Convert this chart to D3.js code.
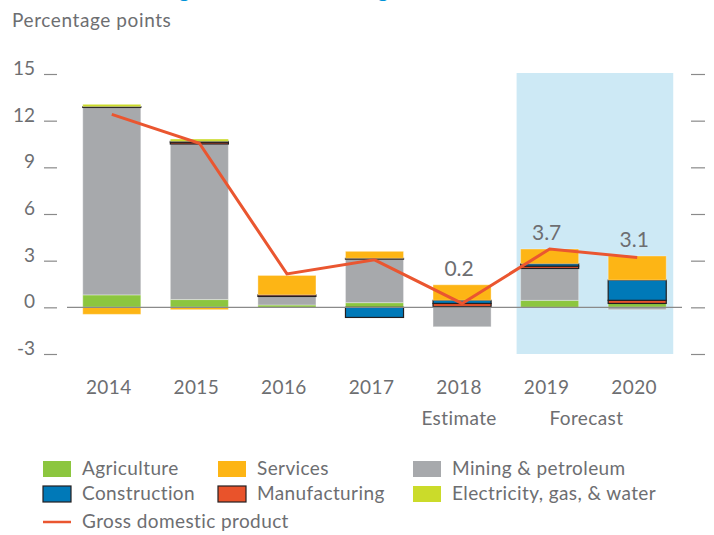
<!DOCTYPE html>
<html><head><meta charset="utf-8">
<script src="https://cdn.jsdelivr.net/npm/d3@7"></script>
<style>
html,body{margin:0;padding:0;background:#fff;}
svg{display:block;font-family:Lato, "Open Sans", sans-serif;}
</style></head>
<body>
<svg id="chart" width="714" height="535"></svg>
<script>
const years = ["2014","2015","2016","2017","2018","2019","2020"];
const agriculture   = [0.8, 0.5, 0.15, 0.3, 0.05, 0.45, 0.25];
const mining        = [12.05, 10.0, 0.55, 2.8, -1.25, 2.05, -0.15];
const manufacturing = [0.05, 0.12, 0.1, 0.05, 0.2, 0.15, 0.2];
const construction  = [0, 0.05, 0, -0.65, 0.2, 0.15, 1.3];
const electricity   = [0.15, 0.15, 0, 0, 0, 0, 0];
const services      = [-0.45, -0.15, 1.25, 0.45, 1.0, 0.95, 1.55];
const gdp           = [12.4, 10.55, 2.15, 3.05, 0.25, 3.75, 3.2];
const gdpLabels     = ["", "", "", "", "0.2", "3.7", "3.1"];
const yTicks        = [-3, 0, 3, 6, 9, 12, 15];
const subLabels     = [{text:"Estimate", from:"2018", to:"2018"}, {text:"Forecast", from:"2019", to:"2020"}];

const seriesNames = ["Agriculture","Mining & petroleum","Manufacturing","Construction","Electricity, gas, & water","Services"];
const seriesVals  = [agriculture, mining, manufacturing, construction, electricity, services];
const colors = {
  "Agriculture":"#8cc63f",
  "Services":"#fdb515",
  "Mining & petroleum":"#a7a9ac",
  "Construction":"#0079b8",
  "Manufacturing":"#e9532b",
  "Electricity, gas, & water":"#cbdb2a"
};
const outlined = {"Construction":true, "Manufacturing":true};
const lineColor = "#ea5630";
const textColor = "#6d6e71";

const table = years.map((y,i)=>{
  const r = {year:y};
  seriesNames.forEach((s,j)=>{ r[s] = seriesVals[j][i]; });
  return r;
});

const svg = d3.select("#chart");

// clipped title (cut off at the top edge, as in the reference)
svg.append("text").attr("x", 12).attr("y", -3)
  .attr("fill","#0093d8").attr("font-size", 22).attr("font-weight","bold")
  .text("Contributions to growth remain strong");

svg.append("text").attr("x", 12).attr("y", 27)
  .attr("fill", textColor).attr("font-size", 19).attr("letter-spacing", 0.6)
  .text("Percentage points");

const x = d3.scaleBand().domain(years).range([67, 682]).paddingInner(0.337).paddingOuter(0.18);
const y = d3.scaleLinear().domain([-3, 15]).range([354, 74]);
const bw = x.bandwidth();

// forecast shading
svg.append("rect")
  .attr("x", x("2019") - 4).attr("y", y(15) - 1)
  .attr("width", x("2020") + bw + 7 - (x("2019") - 4))
  .attr("height", y(-3) - y(15) + 1)
  .attr("fill", "#cde9f5");

// y tick labels & marks (left and right)
const gT = svg.append("g");
yTicks.forEach(t=>{
  gT.append("text").attr("x", 35).attr("y", y(t) + 1).attr("text-anchor","end")
    .attr("fill", textColor).attr("font-size", 19).text(t);
  gT.append("line").attr("x1", 44).attr("x2", 57).attr("y1", y(t)+0.5).attr("y2", y(t)+0.5)
    .attr("stroke", "#8a8a8a").attr("stroke-width", 1.2);
  gT.append("line").attr("x1", 691).attr("x2", 705).attr("y1", y(t)+0.5).attr("y2", y(t)+0.5)
    .attr("stroke", "#8a8a8a").attr("stroke-width", 1.2);
});

// stacked bars
const stack = d3.stack().keys(seriesNames).offset(d3.stackOffsetDiverging);
const layers = stack(table);
const gB = svg.append("g");
layers.forEach(layer=>{
  const name = layer.key;
  gB.append("g").selectAll("rect").data(layer.filter(d=>Math.abs(d[1]-d[0])>1e-9)).join("rect")
    .attr("x", d=>x(d.data.year))
    .attr("width", bw)
    .attr("y", d=>y(Math.max(d[0],d[1])))
    .attr("height", d=>Math.abs(y(d[0]) - y(d[1])))
    .attr("fill", colors[name])
    .attr("stroke", outlined[name] ? "#231f20" : "#ffffff")
    .attr("stroke-opacity", outlined[name] ? 1 : 0.35)
    .attr("stroke-width", outlined[name] ? 1.2 : 1);
});

// zero line
svg.append("line").attr("x1", 67).attr("x2", 682).attr("y1", y(0)).attr("y2", y(0))
  .attr("stroke", "#8a8a8a").attr("stroke-width", 1.3);

// GDP line
const line = d3.line().x((d,i)=>x(years[i]) + bw/2).y(d=>y(d));
svg.append("path").datum(gdp).attr("d", line)
  .attr("fill","none").attr("stroke", lineColor).attr("stroke-width", 3);

// value labels
const posTop = years.map((yr,i)=>d3.max(layers, l=>Math.max(l[i][0], l[i][1])));
gdpLabels.forEach((lab,i)=>{
  if(!lab) return;
  svg.append("text").attr("x", x(years[i]) + bw/2 - 3).attr("y", y(posTop[i]) - 9)
    .attr("text-anchor","middle").attr("fill", textColor).attr("font-size", 21).text(lab);
});

// x labels
years.forEach(yr=>{
  svg.append("text").attr("x", x(yr) + bw/2 - 3).attr("y", 394)
    .attr("text-anchor","middle").attr("fill", textColor).attr("font-size", 19)
    .attr("letter-spacing", 0.4).text(yr);
});
subLabels.forEach(s=>{
  const cx = (x(s.from) + x(s.to) + bw)/2 - 3;
  svg.append("text").attr("x", s.from===s.to ? cx : cx - 4).attr("y", 425)
    .attr("text-anchor","middle").attr("fill", textColor).attr("font-size", 19)
    .attr("letter-spacing", 0.4).text(s.text);
});

// legend
const legendItems = [
  {name:"Agriculture", col:0, row:0},
  {name:"Services", col:1, row:0},
  {name:"Mining & petroleum", col:2, row:0},
  {name:"Construction", col:0, row:1},
  {name:"Manufacturing", col:1, row:1},
  {name:"Electricity, gas, & water", col:2, row:1}
];
const colX = [43, 218, 413];
const rowY = [469, 494, 522];
const gL = svg.append("g");
legendItems.forEach(it=>{
  const lx = colX[it.col], ly = rowY[it.row];
  gL.append("rect").attr("x", lx).attr("y", ly-8).attr("width", 28).attr("height", 16)
    .attr("fill", colors[it.name])
    .attr("stroke", outlined[it.name] ? "#231f20" : "none").attr("stroke-width", 1.2);
  gL.append("text").attr("x", lx + 39).attr("y", ly + 6).attr("fill", textColor)
    .attr("font-size", 19).attr("letter-spacing", 0.4).text(it.name);
});
gL.append("line").attr("x1", 43).attr("x2", 71).attr("y1", rowY[2]).attr("y2", rowY[2])
  .attr("stroke", lineColor).attr("stroke-width", 2.5);
gL.append("text").attr("x", 82).attr("y", rowY[2] + 6).attr("fill", textColor)
  .attr("font-size", 19).attr("letter-spacing", 0.4).text("Gross domestic product");
</script>
</body></html>
